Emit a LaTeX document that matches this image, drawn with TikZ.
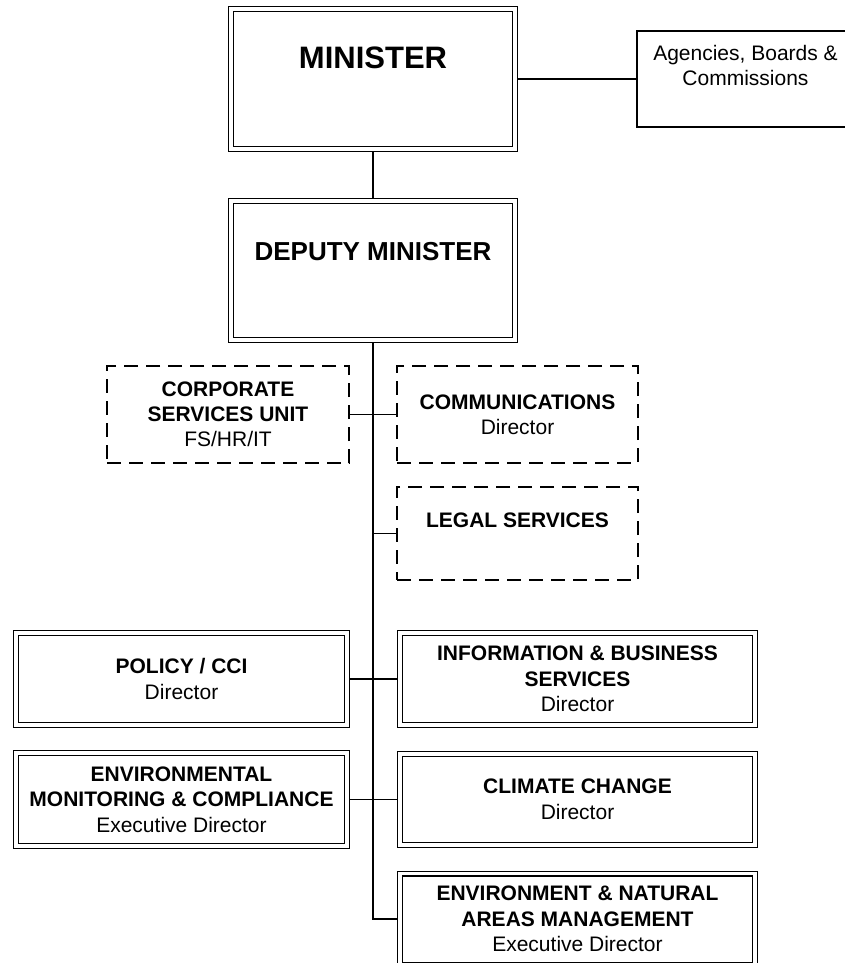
\documentclass[tikz,border=0pt]{standalone}
\usepackage{fontspec}
\setmainfont{Liberation Sans}
\begin{document}
\begin{tikzpicture}[x=1pt,y=-1pt,
  dbox/.style={draw, line width=1.3pt, double, double distance=3.4pt, outer sep=3pt,
    inner sep=0pt, align=center, font=\fontsize{21}{25.5}\selectfont},
  sbox/.style={draw, line width=1.4pt, inner sep=0pt, align=center, font=\fontsize{21}{25}\selectfont},
  dashbox/.style={draw, line width=2.4pt, dash pattern=on 14pt off 8pt, inner sep=0pt,
    align=center, font=\fontsize{21}{25}\selectfont},
  txt/.style={inner sep=0pt, align=center, font=\fontsize{21}{25}\selectfont},
  conn/.style={line width=1.5pt}]
\useasboundingbox (0,0) rectangle (844,963);

% top boxes
\node[dbox, minimum width=284pt, minimum height=140pt] (minister) at (373,79) {};
\node[txt, font=\fontsize{31}{36}\selectfont\bfseries] (ministert) at (373,58) {MINISTER};
\node[sbox, minimum width=217pt, minimum height=96pt] (agencies) at (745.5,79) {};
\node[txt] (agenciest) at (745.5,65.5) {Agencies, Boards \&\\Commissions};
\node[dbox, minimum width=284pt, minimum height=139pt] (deputy) at (373,270.5) {};
\node[txt, font=\fontsize{26}{30}\selectfont\bfseries] (deputyt) at (373,252) {DEPUTY MINISTER};

% dashed units
\node[dashbox, minimum width=242pt, minimum height=97pt] (corporate) at (228,414.5)
  {\textbf{CORPORATE}\\\textbf{SERVICES UNIT}\\FS/HR/IT};
\node[dashbox, minimum width=241pt, minimum height=97pt] (comms) at (517.5,414.5)
  {\textbf{COMMUNICATIONS}\\Director};
\node[dashbox, minimum width=241pt, minimum height=93pt] (legal) at (517.5,533.5) {};
\node[txt, font=\fontsize{21}{25}\selectfont\bfseries] (legalt) at (517.5,520) {LEGAL SERVICES};

% divisions
\node[dbox, minimum width=331pt, minimum height=92pt] (policy) at (181.5,679)
  {\textbf{POLICY / CCI}\\Director};
\node[dbox, minimum width=355pt, minimum height=92pt] (info) at (577.5,679)
  {\textbf{INFORMATION \& BUSINESS}\\\textbf{SERVICES}\\Director};
\node[dbox, minimum width=331pt, minimum height=93pt] (envmon) at (181.5,799.5)
  {\textbf{ENVIRONMENTAL}\\\textbf{MONITORING \& COMPLIANCE}\\Executive Director};
\node[dbox, minimum width=355pt, minimum height=91pt] (climate) at (577.5,799.5)
  {\textbf{CLIMATE CHANGE}\\Director};
\node[dbox, minimum width=355pt, minimum height=91pt] (envnat) at (577.5,919)
  {\textbf{ENVIRONMENT \& NATURAL}\\\textbf{AREAS MANAGEMENT}\\Executive Director};

% connectors
\draw[conn] (minister.east) -- (agencies.west);
\draw[conn] (minister.south) -- (deputy.north);
\draw[conn] (deputy.south) |- (envnat.west);
\draw[conn] (corporate.east) -- (comms.west);
\draw[conn] (legal.west) -- (legal.west -| deputy.south);
\draw[conn] (policy.east) -- (info.west);
\draw[conn] (envmon.east) -- (climate.west);
\end{tikzpicture}
\end{document}
